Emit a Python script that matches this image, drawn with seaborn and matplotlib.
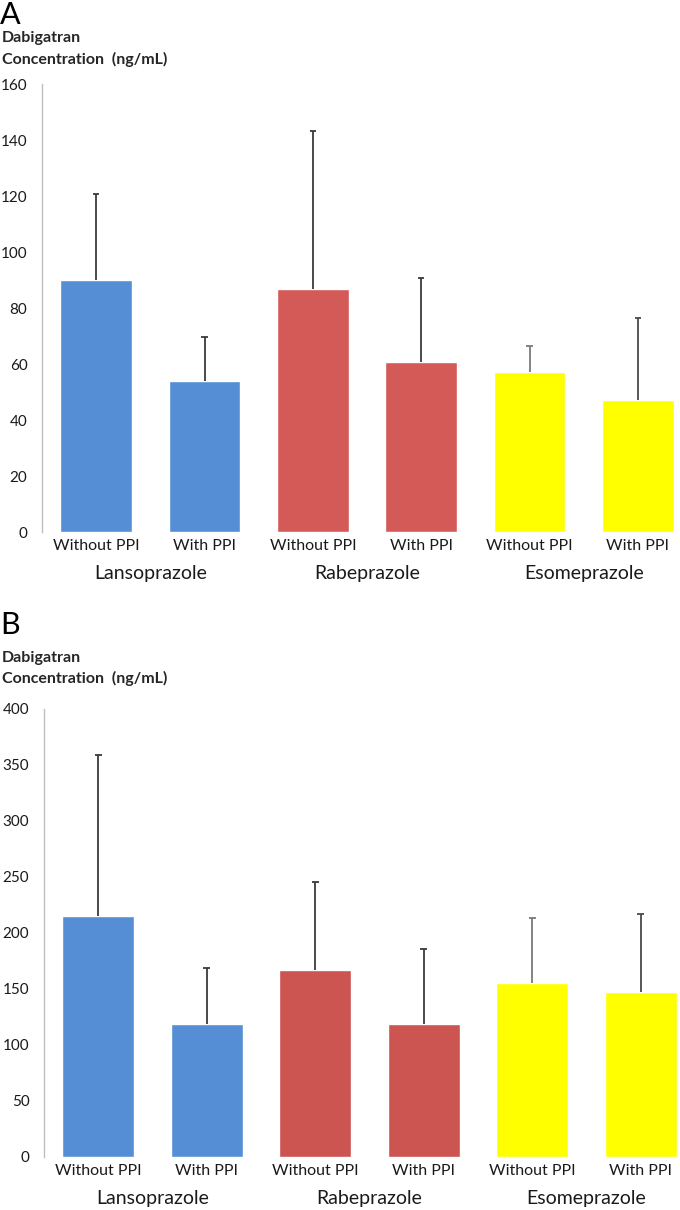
import numpy as np
import pandas as pd
import matplotlib
matplotlib.use('Agg')
import matplotlib.pyplot as plt
import seaborn as sns

sns.set_style('white')
plt.rcParams['font.family'] = ['Lato', 'DejaVu Sans']

# 데이터
drugs = ['Lansoprazole', 'Lansoprazole', 'Rabeprazole', 'Rabeprazole', 'Esomeprazole', 'Esomeprazole']
conditions = ['Without PPI', 'With PPI', 'Without PPI', 'With PPI', 'Without PPI', 'With PPI']
group_names = ['Lansoprazole', 'Rabeprazole', 'Esomeprazole']

# A: 평균, SD
mean_a = [90.0, 53.8, 86.7, 60.6, 57.1, 47.3]
sd_a = [30.7, 15.7, 56.6, 30.0, 9.3, 29.0]

# B: 평균, SD
mean_b = [214.9, 119.0, 166.7, 119.0, 155.0, 147.3]
sd_b = [144.3, 50.0, 78.6, 67.0, 58.4, 69.4]

fig = plt.figure(figsize=(6.8, 12.1), dpi=100)
W, H = 680, 1210


def draw_panel(ax, means, sds, colors, ymax, ystep):
    df = pd.DataFrame({
        'bar': [f'{d} {c}' for d, c in zip(drugs, conditions)],
        'drug': drugs,
        'value': means,
    })
    sns.barplot(data=df, x='bar', y='value', hue='drug', palette=colors,
                dodge=False, width=0.66, legend=False, errorbar=None,
                saturation=1, ax=ax)
    # 위쪽 오차막대만
    err_colors = ['#3a3a3a', '#3a3a3a', '#3a3a3a', '#3a3a3a', '#7a7a7a', '#4a4a4a']
    for i, (m, s) in enumerate(zip(means, sds)):
        ax.vlines(i, m, m + s, color=err_colors[i], lw=1.3, zorder=3)
        ax.hlines(m + s, i - 0.03, i + 0.03, color=err_colors[i], lw=1.3, zorder=3)
    ax.set_xlim(-0.5, 5.5)
    ax.set_ylim(0, ymax)
    ax.set_yticks(np.arange(0, ymax + 1, ystep))
    ax.set_xticks(range(6))
    ax.set_xticklabels(conditions, fontsize=11.5, color='#1a1a1a')
    ax.tick_params(axis='x', length=0, pad=5)
    ax.tick_params(axis='y', length=3.5, width=1, color='#bfbfbf', pad=7,
                   labelsize=11, labelcolor='#1a1a1a')
    ax.set_xlabel('')
    ax.set_ylabel('')
    for side in ['top', 'right', 'bottom']:
        ax.spines[side].set_visible(False)
    ax.spines['left'].set_color('#bfbfbf')
    ax.spines['left'].set_linewidth(1)
    trans = ax.get_xaxis_transform()
    for k, name in enumerate(group_names):
        ax.text(2 * k + 0.5, -0.092, name, transform=trans, ha='center',
                va='center', fontsize=14, color='#1a1a1a')


# 패널 A
ax_a = fig.add_axes([42 / W, (H - 532) / H, 650 / W, 448 / H])
draw_panel(ax_a, mean_a, sd_a, ['#558ed5', '#d45a57', '#ffff00'], 160, 20)

# 패널 B
ax_b = fig.add_axes([44 / W, (H - 1157) / H, 651 / W, 448 / H])
draw_panel(ax_b, mean_b, sd_b, ['#558ed5', '#cc5451', '#ffff00'], 400, 50)

# 제목
for letter, top, b1, b2 in [('A', 1, 42, 64), ('B', 611, 662, 683)]:
    fig.text(0.0, 1 - top / H, letter, fontsize=22, va='top', ha='left', color='black')
    fig.text(0.003, 1 - b1 / H, 'Dabigatran', fontsize=11.5, fontweight='bold',
             va='baseline', ha='left')
    fig.text(0.003, 1 - b2 / H, 'Concentration  (ng/mL)', fontsize=11.5,
             fontweight='bold', va='baseline', ha='left')

fig.savefig('out.png', dpi=100)
